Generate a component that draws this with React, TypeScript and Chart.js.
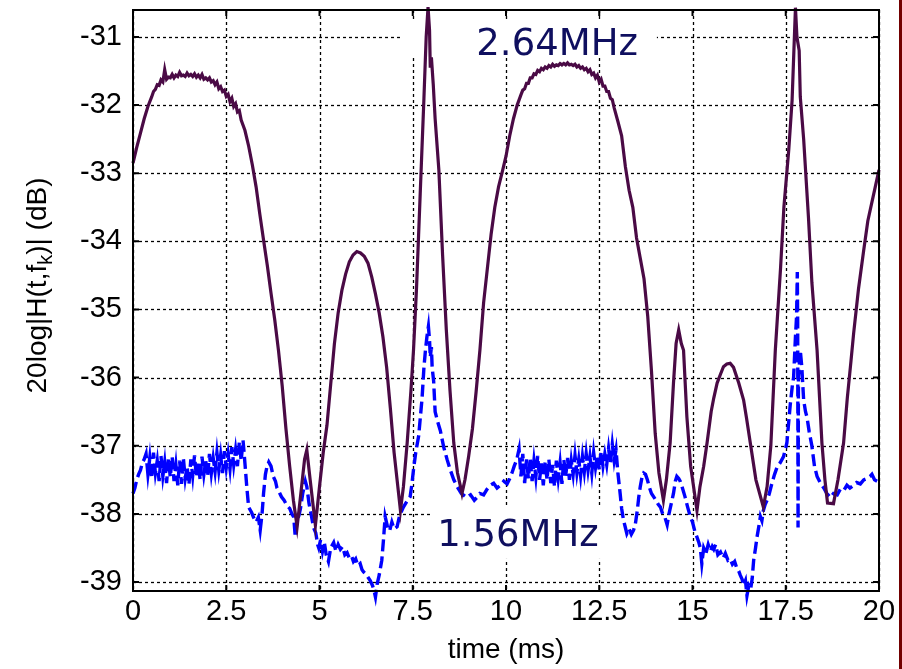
import { useEffect, useRef } from "react";
import { Chart, registerables } from "chart.js";

Chart.register(...registerables);

// Axis ticks
const xTicks = [0, 2.5, 5, 7.5, 10, 12.5, 15, 17.5, 20];
const xTickLabels = ["0", "2.5", "5", "7.5", "10", "12.5", "15", "17.5", "20"];
const yTicks = [-39, -38, -37, -36, -35, -34, -33, -32, -31];
const yTickLabels = ["-39", "-38", "-37", "-36", "-35", "-34", "-33", "-32", "-31"];

// 2.64 MHz sub-carrier: [time (ms), channel gain (dB)]
const gain264: [number, number][] = [
  [0, -32.85], [0.1, -32.62], [0.2, -32.41], [0.3, -32.2], [0.4, -32.02],
  [0.5, -31.88], [0.55, -31.8], [0.6, -31.77], [0.65, -31.7], [0.7, -31.71], [0.75, -31.63], [0.8, -31.66], [0.85, -31.48],
  [0.9, -31.62], [0.95, -31.59], [1.0, -31.6], [1.05, -31.55], [1.1, -31.6], [1.15, -31.56], [1.2, -31.58], [1.25, -31.52],
  [1.3, -31.57], [1.35, -31.56], [1.4, -31.58], [1.45, -31.53], [1.5, -31.57], [1.55, -31.55], [1.6, -31.58], [1.65, -31.54],
  [1.7, -31.59], [1.75, -31.56], [1.8, -31.6], [1.85, -31.55], [1.9, -31.62], [1.95, -31.6], [2.0, -31.63], [2.05, -31.6],
  [2.1, -31.66], [2.15, -31.64], [2.2, -31.7], [2.25, -31.66], [2.3, -31.76], [2.35, -31.73], [2.4, -31.8], [2.45, -31.78],
  [2.5, -31.87], [2.55, -31.84], [2.6, -31.95], [2.65, -31.9], [2.7, -32.02], [2.75, -31.98], [2.8, -32.1], [2.85, -32.08], [2.9, -32.22],
  [3.0, -32.37], [3.1, -32.6], [3.2, -32.88], [3.3, -33.2], [3.4, -33.6], [3.5, -33.98], [3.6, -34.35], [3.7, -34.76],
  [3.8, -35.15], [3.9, -35.6], [4.0, -36.12], [4.1, -36.75], [4.2, -37.3], [4.3, -37.8], [4.4, -38.19], [4.5, -37.7],
  [4.6, -37.2], [4.66, -37.06], [4.75, -37.5], [4.89, -38.17], [5.0, -37.6], [5.1, -37.1], [5.2, -36.7], [5.3, -36.1],
  [5.4, -35.5], [5.5, -35.05], [5.6, -34.72], [5.7, -34.48], [5.8, -34.3], [5.9, -34.2], [6.0, -34.15], [6.1, -34.17],
  [6.2, -34.22], [6.3, -34.32], [6.4, -34.52], [6.5, -34.77], [6.6, -35.05], [6.7, -35.4], [6.8, -35.85], [6.9, -36.45],
  [7.0, -37.1], [7.1, -37.6], [7.17, -37.95], [7.25, -37.6], [7.35, -36.96], [7.45, -36.2], [7.52, -35.6], [7.6, -34.7],
  [7.7, -33.3], [7.8, -31.9], [7.86, -31.0], [7.91, -30.56], [7.95, -30.9], [7.97, -31.45], [8.0, -31.3], [8.05, -31.7],
  [8.1, -32.2], [8.2, -32.95], [8.3, -34.2], [8.4, -35.3], [8.5, -36.2], [8.6, -36.96], [8.7, -37.4], [8.82, -37.7],
  [8.9, -37.5], [9.0, -37.15], [9.1, -36.75], [9.2, -36.2], [9.3, -35.6], [9.4, -34.9], [9.5, -34.4], [9.6, -33.9],
  [9.7, -33.5], [9.8, -33.2], [9.9, -32.98], [10.0, -32.75], [10.1, -32.45], [10.2, -32.2], [10.3, -32.0],
  [10.4, -31.85], [10.45, -31.78], [10.5, -31.76], [10.55, -31.68], [10.6, -31.68], [10.65, -31.6], [10.7, -31.6], [10.75, -31.54],
  [10.8, -31.55], [10.85, -31.49], [10.9, -31.51], [10.95, -31.46], [11.0, -31.48], [11.05, -31.44], [11.1, -31.46], [11.15, -31.42],
  [11.2, -31.44], [11.25, -31.4], [11.3, -31.43], [11.35, -31.41], [11.4, -31.42], [11.45, -31.39], [11.5, -31.41], [11.55, -31.39],
  [11.6, -31.41], [11.65, -31.38], [11.7, -31.41], [11.75, -31.4], [11.8, -31.42], [11.85, -31.4], [11.9, -31.44], [11.95, -31.42],
  [12.0, -31.46], [12.05, -31.44], [12.1, -31.48], [12.15, -31.46], [12.2, -31.51], [12.25, -31.48], [12.3, -31.55], [12.35, -31.53],
  [12.4, -31.6], [12.45, -31.56], [12.5, -31.66], [12.55, -31.62], [12.6, -31.72], [12.65, -31.72], [12.7, -31.8], [12.75, -31.8],
  [12.8, -31.9], [12.85, -31.92], [12.9, -32.04],
  [13.0, -32.24], [13.1, -32.45], [13.2, -32.9], [13.3, -33.25], [13.4, -33.5], [13.5, -33.95], [13.6, -34.25], [13.7, -34.55],
  [13.8, -35.1], [13.9, -35.9], [14.0, -36.82], [14.1, -37.4], [14.22, -37.8], [14.3, -37.5], [14.4, -36.96], [14.49, -36.08],
  [14.56, -35.5], [14.63, -35.3], [14.7, -35.5], [14.76, -35.6], [14.85, -36.58], [14.95, -37.3], [15.12, -37.95], [15.2, -37.6],
  [15.3, -37.3], [15.39, -36.96], [15.5, -36.5], [15.57, -36.3], [15.66, -36.08], [15.75, -35.95], [15.83, -35.84], [15.92, -35.8],
  [16.01, -35.79], [16.1, -35.85], [16.24, -36.08], [16.37, -36.33], [16.45, -36.6], [16.55, -36.96], [16.7, -37.5], [16.9, -37.9],
  [17.0, -37.6], [17.1, -37.0], [17.22, -35.6], [17.36, -34.4], [17.45, -33.5], [17.58, -32.66], [17.67, -31.93], [17.76, -30.57],
  [17.8, -31.0], [17.86, -31.2], [17.89, -31.88], [17.98, -32.5], [18.11, -33.66], [18.2, -34.6], [18.34, -35.6], [18.47, -36.96],
  [18.55, -37.5], [18.62, -37.84], [18.78, -37.85], [18.9, -37.5], [19.05, -36.96], [19.15, -36.3], [19.25, -35.75], [19.32, -35.35],
  [19.45, -34.7], [19.59, -34.13], [19.7, -33.7], [19.8, -33.45], [19.9, -33.2], [20.0, -32.95],
];

// 1.56 MHz sub-carrier: time (ms) and channel gain (dB)
const t156 = [
  0.0, 0.05, 0.1, 0.15, 0.2, 0.25, 0.3, 0.35, 0.4, 0.45, 0.5, 0.55, 0.6, 0.65, 0.7, 0.75, 0.8, 0.85, 0.9, 0.95,
  1.0, 1.05, 1.1, 1.15, 1.2, 1.25, 1.3, 1.35, 1.4, 1.45, 1.5, 1.55, 1.6, 1.65, 1.7, 1.75, 1.8, 1.85, 1.9, 1.95,
  2.0, 2.05, 2.1, 2.15, 2.2, 2.25, 2.3, 2.35, 2.4, 2.45, 2.5, 2.55, 2.6, 2.65, 2.7, 2.75, 2.8, 2.85, 2.9, 2.95,
  3.0, 3.05, 3.1, 3.18, 3.23, 3.3, 3.36, 3.41, 3.46, 3.5, 3.55, 3.59, 3.64, 3.7, 3.76, 3.82, 3.86, 3.92, 3.98, 4.05,
  4.13, 4.2, 4.26, 4.31, 4.35, 4.4, 4.45, 4.49, 4.55, 4.62, 4.66, 4.72, 4.78, 4.84, 4.9, 4.95, 4.98, 5.03, 5.08, 5.13,
  5.18, 5.24, 5.3, 5.38, 5.44, 5.5, 5.56, 5.62, 5.68, 5.74, 5.8, 5.86, 5.91, 5.97, 6.03, 6.09, 6.14, 6.18, 6.24, 6.3,
  6.36, 6.42, 6.46, 6.5, 6.55, 6.6, 6.67, 6.72, 6.76, 6.82, 6.88, 6.94, 7.0, 7.08, 7.15, 7.25, 7.34, 7.43, 7.48, 7.52,
  7.58, 7.66, 7.75, 7.8, 7.84, 7.88, 7.92, 7.95, 7.97, 8.0, 8.02, 8.06, 8.1, 8.17, 8.24, 8.33, 8.42, 8.51, 8.6, 8.69,
  8.8, 8.95, 9.05, 9.15, 9.22, 9.3, 9.4, 9.49, 9.58, 9.67, 9.76, 9.85, 9.94, 10.03, 10.1, 10.16, 10.22, 10.29, 10.35, 10.4,
  10.45, 10.5, 10.55, 10.6, 10.65, 10.7, 10.75, 10.8, 10.85, 10.9, 10.95, 11.0, 11.05, 11.1, 11.15, 11.2, 11.25, 11.3, 11.35, 11.4,
  11.45, 11.5, 11.55, 11.6, 11.65, 11.7, 11.75, 11.8, 11.85, 11.9, 11.95, 12.0, 12.05, 12.1, 12.15, 12.2, 12.25, 12.3, 12.35, 12.4,
  12.45, 12.5, 12.55, 12.6, 12.65, 12.7, 12.75, 12.8, 12.85, 12.9, 12.95, 13.0, 13.06, 13.1, 13.15, 13.2, 13.24, 13.3, 13.36, 13.42,
  13.47, 13.52, 13.56, 13.6, 13.65, 13.69, 13.74, 13.79, 13.85, 13.9, 13.96, 14.02, 14.08, 14.14, 14.2, 14.26, 14.32, 14.37, 14.43, 14.49,
  14.54, 14.58, 14.63, 14.67, 14.73, 14.8, 14.87, 14.94, 15.0, 15.06, 15.12, 15.17, 15.21, 15.25, 15.3, 15.36, 15.42, 15.48, 15.53, 15.57,
  15.62, 15.68, 15.75, 15.82, 15.88, 15.95, 16.01, 16.07, 16.13, 16.19, 16.24, 16.28, 16.33, 16.37, 16.42, 16.46, 16.51, 16.56, 16.6, 16.64,
  16.69, 16.73, 16.78, 16.82, 16.86, 16.9, 16.95, 17.0, 17.06, 17.13, 17.2, 17.27, 17.35, 17.44, 17.53, 17.62, 17.68, 17.71, 17.76, 17.79,
  17.81, 17.82, 17.83, 17.84, 17.89, 17.93, 17.98, 18.03, 18.07, 18.13, 18.2, 18.27, 18.34, 18.43, 18.52, 18.6, 18.7, 18.78, 18.88, 18.96,
  19.05, 19.14, 19.22, 19.32, 19.4, 19.5, 19.59, 19.68, 19.76, 19.81, 19.88, 19.95, 20.0,
];
const g156 = [
  -37.7, -37.62, -37.5, -37.42, -37.36, -37.25, -37.2, -37.12, -37.42, -37.18, -37.48, -37.1, -37.4, -37.22, -37.52, -37.15, -37.45, -37.24, -37.55, -37.2,
  -37.46, -37.16, -37.52, -37.28, -37.58, -37.22, -37.56, -37.18, -37.48, -37.3, -37.57, -37.2, -37.44, -37.14, -37.46, -37.25, -37.5, -37.16, -37.42, -37.22,
  -37.45, -37.12, -37.4, -37.18, -37.38, -37.1, -37.36, -37.14, -37.4, -37.08, -37.32, -37.12, -37.34, -37.02, -37.28, -37.06, -37.3, -36.95, -37.22, -36.92,
  -37.25, -37.6, -37.9, -37.98, -38.05, -38.12, -38.05, -38.24, -38.0, -37.7, -37.42, -37.31, -37.24, -37.3, -37.45, -37.52, -37.62, -37.68, -37.75, -37.8,
  -37.88, -37.92, -38.0, -38.05, -38.34, -38.1, -38.02, -37.92, -37.7, -37.52, -37.6, -37.85, -38.02, -38.2, -38.28, -38.45, -38.5, -38.38, -38.55, -38.42,
  -38.6, -38.7, -38.5, -38.42, -38.55, -38.45, -38.52, -38.48, -38.6, -38.57, -38.65, -38.62, -38.7, -38.66, -38.76, -38.73, -38.82, -38.85, -38.88, -38.93,
  -38.98, -39.05, -39.12, -39.22, -39.02, -38.9, -38.68, -38.35, -38.04, -38.18, -38.25, -38.12, -38.22, -38.19, -38.02, -37.9, -37.82, -37.75, -37.55, -37.35,
  -37.1, -36.85, -36.3, -35.85, -35.6, -35.4, -35.25, -35.45, -35.7, -35.55, -35.85, -36.05, -36.5, -36.65, -36.78, -37.02, -37.2, -37.36, -37.5, -37.6,
  -37.7, -37.76, -37.72, -37.8, -37.76, -37.7, -37.72, -37.64, -37.58, -37.55, -37.62, -37.58, -37.52, -37.56, -37.48, -37.4, -37.3, -37.2, -37.05, -37.45,
  -37.12, -37.55, -37.2, -37.48, -37.18, -37.52, -37.22, -37.46, -37.15, -37.5, -37.26, -37.58, -37.24, -37.5, -37.2, -37.55, -37.28, -37.6, -37.22, -37.48,
  -37.25, -37.56, -37.2, -37.45, -37.18, -37.5, -37.22, -37.42, -37.14, -37.4, -37.2, -37.44, -37.16, -37.38, -37.12, -37.36, -37.16, -37.4, -37.1, -37.32,
  -37.14, -37.35, -37.08, -37.3, -37.12, -37.28, -37.04, -37.26, -36.98, -37.22, -37.06, -37.4, -37.7, -37.92, -38.09, -38.2, -38.29, -38.22, -38.3, -38.24,
  -38.14, -37.95, -37.75, -37.6, -37.45, -37.4, -37.42, -37.5, -37.62, -37.7, -37.75, -37.8, -37.86, -37.9, -38.0, -38.05, -38.16, -38.0, -37.85, -37.7,
  -37.52, -37.45, -37.48, -37.52, -37.62, -37.75, -37.9, -38.04, -38.12, -38.25, -38.34, -38.42, -38.5, -38.73, -38.5, -38.58, -38.45, -38.55, -38.48, -38.52,
  -38.45, -38.6, -38.56, -38.65, -38.58, -38.68, -38.66, -38.74, -38.7, -38.8, -38.84, -38.9, -38.96, -39.05, -38.98, -39.2, -39.05, -39.1, -38.95, -38.68,
  -38.5, -38.34, -38.18, -38.04, -38.1, -37.95, -37.86, -37.8, -37.7, -37.55, -37.42, -37.31, -37.25, -37.16, -36.96, -36.4, -36.1, -36.0, -35.4, -35.1,
  -34.45, -35.2, -38.2, -36.0, -35.6, -35.84, -36.33, -36.5, -36.58, -36.8, -37.0, -37.3, -37.45, -37.55, -37.62, -37.7, -37.76, -37.7, -37.72, -37.64,
  -37.66, -37.58, -37.62, -37.58, -37.54, -37.56, -37.5, -37.48, -37.45, -37.42, -37.5, -37.52, -37.58,
];

const seriesNames = ["2.64MHz", "1.56MHz"];

const SANS = "'Liberation Sans', Arial, sans-serif";
const TITLE_FONT_SIZE = 28;
const NOTE_FONT = "37px 'DejaVu Sans', Verdana, sans-serif";
const NOTE_COLOR = "#0f0f5f";

// Grid, frame, inward tick marks, curve labels and axis titles
const axesDecor = {
  id: "axesDecor",
  beforeDatasetsDraw(chart: any) {
    const { ctx, chartArea: a, scales } = chart;
    const sx = scales.x;
    const sy = scales.y;
    ctx.save();
    ctx.strokeStyle = "#000";
    ctx.lineWidth = 1.3;
    ctx.setLineDash([3, 3]);
    for (const v of xTicks) {
      const px = Math.round(sx.getPixelForValue(v)) + 0.5;
      ctx.beginPath();
      ctx.moveTo(px, a.top);
      ctx.lineTo(px, a.bottom);
      ctx.stroke();
    }
    for (const v of yTicks) {
      const py = Math.round(sy.getPixelForValue(v)) + 0.5;
      ctx.beginPath();
      ctx.moveTo(a.left, py);
      ctx.lineTo(a.right, py);
      ctx.stroke();
    }
    ctx.setLineDash([]);
    // white boxes behind the curve labels
    ctx.fillStyle = "#fff";
    ctx.font = NOTE_FONT;
    const w1 = ctx.measureText(seriesNames[0]).width;
    const c1x = sx.getPixelForValue(11.37);
    const b1y = sy.getPixelForValue(-31.26);
    ctx.fillRect(c1x - w1 / 2 - 74, b1y - 34, w1 + 74 + 19, 37);
    const w2 = ctx.measureText(seriesNames[1]).width;
    const c2x = sx.getPixelForValue(10.32);
    const b2y = sy.getPixelForValue(-38.47);
    ctx.fillRect(c2x - w2 / 2 - 5, b2y - 40, w2 + 5 + 14, 53);
    ctx.restore();
  },
  afterDatasetsDraw(chart: any) {
    const { ctx, chartArea: a, scales } = chart;
    const sx = scales.x;
    const sy = scales.y;
    ctx.save();
    // frame
    ctx.strokeStyle = "#000";
    ctx.lineWidth = 2;
    ctx.strokeRect(a.left, a.top, a.right - a.left, a.bottom - a.top);
    // inward ticks on all four sides
    const tl = 6;
    ctx.beginPath();
    for (const v of xTicks) {
      const px = sx.getPixelForValue(v);
      ctx.moveTo(px, a.bottom);
      ctx.lineTo(px, a.bottom - tl);
      ctx.moveTo(px, a.top);
      ctx.lineTo(px, a.top + tl);
    }
    for (const v of yTicks) {
      const py = sy.getPixelForValue(v);
      ctx.moveTo(a.left, py);
      ctx.lineTo(a.left + tl, py);
      ctx.moveTo(a.right, py);
      ctx.lineTo(a.right - tl, py);
    }
    ctx.stroke();

    // curve labels
    ctx.font = NOTE_FONT;
    ctx.fillStyle = NOTE_COLOR;
    ctx.textAlign = "center";
    ctx.textBaseline = "alphabetic";
    ctx.fillText(seriesNames[0], sx.getPixelForValue(11.37), sy.getPixelForValue(-31.26));
    ctx.fillText(seriesNames[1], sx.getPixelForValue(10.32), sy.getPixelForValue(-38.47));

    // x axis title
    ctx.fillStyle = "#000";
    ctx.font = `${TITLE_FONT_SIZE}px ${SANS}`;
    ctx.fillText("time (ms)", (a.left + a.right) / 2, 658);

    // y axis title with subscript k
    const main1 = "20log|H(t,f";
    const sub = "k";
    const main2 = ")| (dB)";
    const big = `${TITLE_FONT_SIZE}px ${SANS}`;
    const small = `${Math.round(TITLE_FONT_SIZE * 0.7)}px ${SANS}`;
    ctx.font = big;
    const w1 = ctx.measureText(main1).width;
    const w3 = ctx.measureText(main2).width;
    ctx.font = small;
    const w2 = ctx.measureText(sub).width;
    const total = w1 + w2 + w3;
    ctx.translate(46, (a.top + a.bottom) / 2 - 15);
    ctx.rotate(-Math.PI / 2);
    ctx.textAlign = "left";
    let x0 = -total / 2;
    ctx.font = big;
    ctx.fillText(main1, x0, 0);
    x0 += w1;
    ctx.font = small;
    ctx.fillText(sub, x0, 6);
    x0 += w2;
    ctx.font = big;
    ctx.fillText(main2, x0, 0);
    ctx.restore();
  },
};

export default function App() {
  const canvasRef = useRef<HTMLCanvasElement | null>(null);

  useEffect(() => {
    const canvas = canvasRef.current;
    if (!canvas) return;
    const chart = new Chart(canvas, {
      type: "line",
      data: {
        datasets: [
          {
            label: seriesNames[0],
            data: gain264.map(([t, g]) => ({ x: t, y: g })),
            borderColor: "#4a0a45",
            borderWidth: 3.2,
            pointRadius: 0,
            tension: 0,
            clip: false as any,
          },
          {
            label: seriesNames[1],
            data: t156.map((t, i) => ({ x: t, y: g156[i] })),
            borderColor: "#0000ff",
            borderWidth: 3.4,
            borderDash: [12, 5],
            pointRadius: 0,
            tension: 0,
            clip: false as any,
          },
        ],
      },
      options: {
        animation: false,
        responsive: false,
        devicePixelRatio: 1,
        events: [],
        layout: { padding: { left: 0, top: 10, right: 23, bottom: 0 } },
        plugins: {
          legend: { display: false },
          tooltip: { enabled: false },
          title: { display: false },
        },
        scales: {
          x: {
            type: "linear",
            min: 0,
            max: 20,
            grid: { display: false, drawTicks: false },
            border: { display: false },
            afterBuildTicks: (s: any) => {
              s.ticks = xTicks.map((v) => ({ value: v }));
            },
            afterFit: (s: any) => {
              s.height = 78;
              s.paddingLeft = 0;
              s.paddingRight = 0;
            },
            ticks: {
              autoSkip: false,
              maxRotation: 0,
              minRotation: 0,
              padding: 4,
              color: "#000",
              font: { family: SANS, size: 29 },
              callback: (_v: any, i: number) => xTickLabels[i],
            },
          },
          y: {
            type: "linear",
            min: -39.132,
            max: -30.604,
            grid: { display: false, drawTicks: false },
            border: { display: false },
            afterBuildTicks: (s: any) => {
              s.ticks = yTicks.map((v) => ({ value: v }));
            },
            afterFit: (s: any) => {
              s.width = 133;
              s.paddingTop = 0;
              s.paddingBottom = 0;
            },
            ticks: {
              autoSkip: false,
              padding: 11,
              color: "#000",
              font: { family: SANS, size: 29 },
              callback: (_v: any, i: number) => yTickLabels[i],
            },
          },
        },
      },
      plugins: [axesDecor],
    });
    return () => chart.destroy();
  }, []);

  return (
    <div style={{ position: "fixed", left: 0, top: 0, width: 902, height: 669, background: "#fff" }}>
      <canvas ref={canvasRef} width={902} height={669} style={{ display: "block", width: 902, height: 669 }} />
      <div style={{ position: "absolute", left: 899, top: 0, width: 3, height: 669, background: "#720000" }} />
    </div>
  );
}
